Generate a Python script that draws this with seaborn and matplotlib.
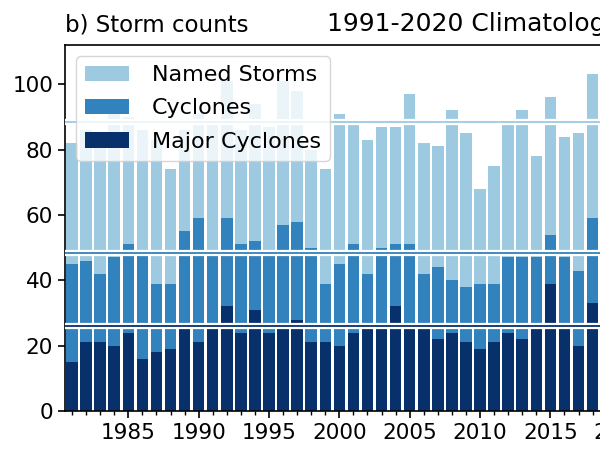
import pandas as pd
import seaborn as sns
import matplotlib.pyplot as plt
from matplotlib.ticker import MultipleLocator

# yearly storm counts (1981-2018 visible)
years = list(range(1981, 2019))
named_storms = [82, 86, 84, 91, 90, 86, 83, 74, 86, 91,
                88, 101, 86, 94, 87, 101, 98, 80, 74, 91,
                89, 83, 87, 87, 97, 82, 81, 92, 85, 68,
                75, 89, 92, 78, 96, 84, 85, 103]
cyclones = [45, 46, 42, 47, 51, 48, 39, 39, 55, 59,
            48, 59, 51, 52, 49, 57, 58, 50, 39, 45,
            51, 42, 50, 51, 51, 42, 44, 40, 38, 39,
            39, 47, 47, 47, 54, 47, 43, 59]
major_cyclones = [15, 21, 21, 20, 24, 16, 18, 19, 25, 21,
                  25, 32, 24, 31, 24, 27, 28, 21, 21, 20,
                  24, 27, 25, 32, 27, 27, 22, 24, 21, 19,
                  21, 24, 22, 27, 39, 25, 20, 33]

# 1991-2020 climatology levels
clim_named = 88.6
clim_cyclones = 48.3
clim_major = 25.9

series_labels = ["Named Storms", "Cyclones", "Major Cyclones"]
series_colors = ["#9ecae1", "#3182bd", "#08306b"]


def main():
    df = pd.DataFrame({
        "Year": years,
        "Named Storms": named_storms,
        "Cyclones": cyclones,
        "Major Cyclones": major_cyclones,
    })

    sns.set_theme(style="ticks")
    plt.rcParams["font.family"] = ["DejaVu Sans"]
    plt.rcParams["text.color"] = "black"
    plt.rcParams["xtick.color"] = "black"
    plt.rcParams["ytick.color"] = "black"
    plt.rcParams["xtick.labelcolor"] = "black"
    plt.rcParams["ytick.labelcolor"] = "black"

    fig = plt.figure(figsize=(6.0, 4.49), dpi=100)
    ax = fig.add_axes([0.1083, 0.0846, 0.938, 0.815])

    for label, color in zip(series_labels, series_colors):
        sns.barplot(data=df, x="Year", y=label, color=color, label=label,
                    width=0.82, native_scale=True, errorbar=None,
                    saturation=1, linewidth=0, ax=ax)

    # climatology lines: white halo with coloured core
    for level, color in zip([clim_named, clim_cyclones, clim_major], series_colors):
        ax.axhline(level, color="white", lw=4.5, zorder=3)
        ax.axhline(level, color=color, lw=1.3, zorder=4)

    ax.set_xlim(1980.5, 2020.5)
    ax.set_ylim(0, 112)
    ax.xaxis.set_major_locator(MultipleLocator(5))
    ax.xaxis.set_minor_locator(MultipleLocator(1))
    ax.yaxis.set_major_locator(MultipleLocator(20))
    ax.set_xlabel("")
    ax.set_ylabel("")
    ax.tick_params(axis="both", which="major", labelsize=15.5, length=5, width=1.2)
    ax.tick_params(axis="x", which="minor", length=3, width=1)
    for side in ["left", "bottom", "top", "right"]:
        ax.spines[side].set_color("black")
        ax.spines[side].set_linewidth(1.2)

    ax.set_title("b) Storm counts", loc="left", fontsize=16.5, pad=10)
    pad_frac = 10 / 72 * 100 / (0.815 * 449)
    ax.text(0.466, 1.0 + pad_frac, "1991-2020 Climatology", transform=ax.transAxes,
            fontsize=18, ha="left", va="baseline")

    ax.legend(loc="upper left", fontsize=16, framealpha=0.8,
              handletextpad=1.0, labelspacing=0.6, borderaxespad=0.5)

    fig.savefig("out.png", dpi=100)


if __name__ == "__main__":
    main()
